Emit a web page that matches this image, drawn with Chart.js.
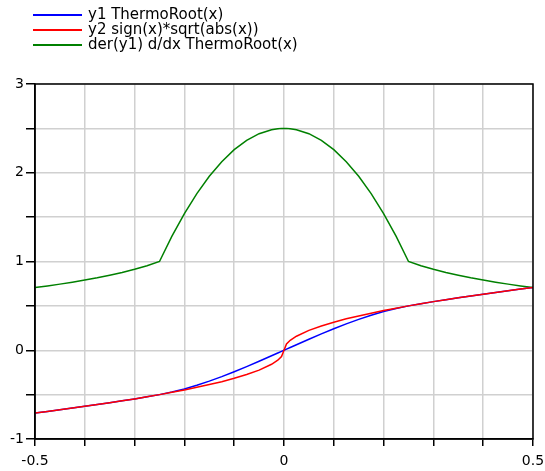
<!DOCTYPE html>
<html>
<head>
<meta charset="utf-8">
<script src="https://cdn.jsdelivr.net/npm/chart.js@4/dist/chart.umd.min.js"></script>
<style>
  html, body { margin: 0; padding: 0; background: #fff; }
  #wrap { position: relative; width: 545px; height: 471px; }
  #legend { position: absolute; left: 33px; top: 7px; font-family: "DejaVu Sans", sans-serif; font-size: 15px; color: #000; }
  .item { position: relative; height: 15px; line-height: 15px; padding-left: 55px; white-space: nowrap; }
  .item span.line { position: absolute; left: 0; top: 7px; width: 49px; height: 2px; }
</style>
</head>
<body>
<div id="wrap">
  <canvas id="chart" width="545" height="471"></canvas>
  <div id="legend"></div>
</div>
<script>
// x samples and the three curves
const xs = [-0.5, -0.475, -0.45, -0.425, -0.4, -0.375, -0.35, -0.325, -0.3, -0.275,
  -0.25, -0.225, -0.2, -0.175, -0.15, -0.125, -0.1, -0.075, -0.05, -0.025,
  -0.0125, -0.005, 0, 0.005, 0.0125,
  0.025, 0.05, 0.075, 0.1, 0.125, 0.15, 0.175, 0.2, 0.225, 0.25,
  0.275, 0.3, 0.325, 0.35, 0.375, 0.4, 0.425, 0.45, 0.475, 0.5];

const y1 = [-0.707, -0.689, -0.671, -0.652, -0.632, -0.612, -0.592, -0.570, -0.548, -0.524,
  -0.5, -0.471, -0.436, -0.395, -0.348, -0.297, -0.242, -0.184, -0.124, -0.062,
  -0.031, -0.0125, 0, 0.0125, 0.031,
  0.062, 0.124, 0.184, 0.242, 0.297, 0.348, 0.395, 0.436, 0.471, 0.5,
  0.524, 0.548, 0.570, 0.592, 0.612, 0.632, 0.652, 0.671, 0.689, 0.707];

const y2 = [-0.707, -0.689, -0.671, -0.652, -0.632, -0.612, -0.592, -0.570, -0.548, -0.524,
  -0.5, -0.474, -0.447, -0.418, -0.387, -0.354, -0.316, -0.274, -0.224, -0.158,
  -0.112, -0.071, 0, 0.071, 0.112,
  0.158, 0.224, 0.274, 0.316, 0.354, 0.387, 0.418, 0.447, 0.474, 0.5,
  0.524, 0.548, 0.570, 0.592, 0.612, 0.632, 0.652, 0.671, 0.689, 0.707];

const dy1 = [0.707, 0.725, 0.745, 0.767, 0.791, 0.816, 0.845, 0.877, 0.913, 0.953,
  1.0, 1.285, 1.54, 1.765, 1.96, 2.125, 2.26, 2.365, 2.44, 2.485,
  2.496, 2.5, 2.5, 2.5, 2.496,
  2.485, 2.44, 2.365, 2.26, 2.125, 1.96, 1.765, 1.54, 1.285, 1.0,
  0.953, 0.913, 0.877, 0.845, 0.816, 0.791, 0.767, 0.745, 0.725, 0.707];

const seriesNames = ["y1 ThermoRoot(x)", "y2 sign(x)*sqrt(abs(x))", "der(y1) d/dx ThermoRoot(x)"];
const seriesColors = ["#0000ff", "#ff0000", "#008000"];
const seriesOrder = [2, 1, 3]; // red sits on top of blue
const xLabels = [-0.5, 0, 0.5];
const yLabels = [-1, 0, 1, 2, 3];

const allSeries = [y1, y2, dy1];

// legend in html
const legendEl = document.getElementById("legend");
seriesNames.forEach((name, i) => {
  const row = document.createElement("div");
  row.className = "item";
  row.innerHTML = `<span class="line" style="background:${seriesColors[i]}"></span>${name}`;
  legendEl.appendChild(row);
});

const frame = {
  id: "frame",
  afterDatasetsDraw(chart) {
    const a = chart.chartArea;
    const ctx = chart.ctx;
    ctx.save();
    ctx.strokeStyle = "#000";
    ctx.lineWidth = 1.5;
    ctx.strokeRect(a.left, a.top, a.right - a.left, a.bottom - a.top);
    ctx.restore();
  },
};

const isLabel = (v, list) => list.some((l) => Math.abs(l - v) < 1e-9);

new Chart(document.getElementById("chart"), {
  type: "line",
  data: {
    datasets: allSeries.map((s, i) => ({
      label: seriesNames[i],
      data: xs.map((x, j) => ({ x: x, y: s[j] })),
      borderColor: seriesColors[i],
      borderWidth: 1.5,
      pointRadius: 0,
      tension: 0,
      fill: false,
      order: seriesOrder[i],
    })),
  },
  options: {
    responsive: false,
    animation: false,
    layout: { padding: { top: 84, right: 12, left: 0, bottom: 0 } },
    plugins: { legend: { display: false }, tooltip: { enabled: false } },
    scales: {
      x: {
        type: "linear",
        min: -0.5,
        max: 0.5,
        afterFit: (scale) => {
          scale.height = 32;
          scale.paddingLeft = 0;
          scale.paddingRight = 0;
        },
        ticks: {
          stepSize: 0.1,
          autoSkip: false,
          maxRotation: 0,
          padding: 7,
          color: "#000",
          font: { family: "DejaVu Sans", size: 14 },
          callback: (v) => (isLabel(v, xLabels) ? String(v) : ""),
        },
        grid: { color: "#d0d0d0", tickColor: "#000", tickLength: 7, lineWidth: 1.5 },
        border: { display: true, color: "#000", width: 1.5 },
      },
      y: {
        min: -1,
        max: 3,
        afterFit: (scale) => { scale.width = 35; },
        ticks: {
          stepSize: 0.5,
          autoSkip: false,
          padding: 2,
          color: "#000",
          font: { family: "DejaVu Sans", size: 14 },
          callback: (v) => (isLabel(v, yLabels) ? String(v) : ""),
        },
        grid: { color: "#d0d0d0", tickColor: "#000", tickLength: 9, lineWidth: 1.5 },
        border: { display: true, color: "#000", width: 1.5 },
      },
    },
  },
  plugins: [frame],
});
</script>
</body>
</html>
